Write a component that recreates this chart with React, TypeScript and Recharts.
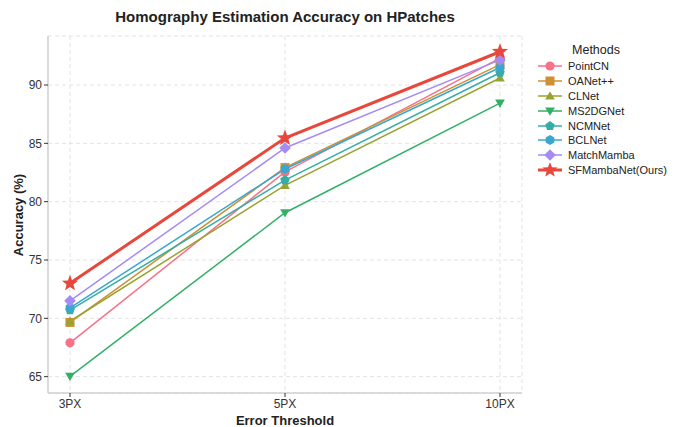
import React from "react";
import { LineChart, Line, XAxis, YAxis, CartesianGrid } from "recharts";

const categories = ["3PX", "5PX", "10PX"];
const pointCN = [67.9, 82.55, 92.3];
const oaNet = [69.65, 82.92, 91.75];
const clNet = [69.75, 81.4, 90.6];
const ms2dgNet = [65.03, 79.05, 88.45];
const ncmNet = [70.7, 81.85, 91.05];
const bclNet = [70.9, 82.8, 91.5];
const matchMamba = [71.5, 84.6, 92.15];
const sfMambaNet = [73.0, 85.45, 92.85];
const yTicks = [65, 70, 75, 80, 85, 90];

const seriesDefs = [
  { key: "PointCN", values: pointCN, color: "#f77189", shape: "circle", width: 1.5 },
  { key: "OANet++", values: oaNet, color: "#ce9032", shape: "square", width: 1.5 },
  { key: "CLNet", values: clNet, color: "#97a431", shape: "triUp", width: 1.5 },
  { key: "MS2DGNet", values: ms2dgNet, color: "#32b166", shape: "triDown", width: 1.5 },
  { key: "NCMNet", values: ncmNet, color: "#36ada4", shape: "pentagon", width: 1.5 },
  { key: "BCLNet", values: bclNet, color: "#39a7d0", shape: "hexagon", width: 1.5 },
  { key: "MatchMamba", values: matchMamba, color: "#a48cf4", shape: "diamond", width: 1.5 },
  { key: "SFMambaNet(Ours)", values: sfMambaNet, color: "#e8483b", shape: "star", width: 3 },
];

const data = categories.map((c, i) => {
  const row: any = { name: c };
  seriesDefs.forEach((s) => (row[s.key] = s.values[i]));
  return row;
});

const FONT = "'Liberation Sans', Arial, Helvetica, sans-serif";

function polygon(cx: number, cy: number, r: number, n: number, rot: number) {
  const pts: string[] = [];
  for (let i = 0; i < n; i++) {
    const a = rot + (i * 2 * Math.PI) / n;
    pts.push(`${cx + r * Math.cos(a)},${cy + r * Math.sin(a)}`);
  }
  return pts.join(" ");
}

function star(cx: number, cy: number, ro: number, ri: number) {
  const pts: string[] = [];
  for (let i = 0; i < 10; i++) {
    const r = i % 2 === 0 ? ro : ri;
    const a = -Math.PI / 2 + (i * Math.PI) / 5;
    pts.push(`${cx + r * Math.cos(a)},${cy + r * Math.sin(a)}`);
  }
  return pts.join(" ");
}

function Marker({ cx, cy, shape, color, scale = 1 }: any) {
  const s = scale;
  switch (shape) {
    case "circle":
      return <circle cx={cx} cy={cy} r={4.6 * s} fill={color} />;
    case "square":
      return <rect x={cx - 4.5 * s} y={cy - 4.5 * s} width={9 * s} height={9 * s} fill={color} />;
    case "triUp":
      return <polygon points={polygon(cx, cy + 0.8 * s, 5.6 * s, 3, -Math.PI / 2)} fill={color} />;
    case "triDown":
      return <polygon points={polygon(cx, cy - 0.8 * s, 5.6 * s, 3, Math.PI / 2)} fill={color} />;
    case "pentagon":
      return <polygon points={polygon(cx, cy, 5 * s, 5, -Math.PI / 2)} fill={color} />;
    case "hexagon":
      return <polygon points={polygon(cx, cy, 5 * s, 6, -Math.PI / 2)} fill={color} />;
    case "diamond":
      return <polygon points={polygon(cx, cy, 5.8 * s, 4, -Math.PI / 2)} fill={color} />;
    case "star":
      return <polygon points={star(cx, cy, 8.5 * s, 3.6 * s)} fill={color} />;
    default:
      return null;
  }
}

function LegendBox() {
  return (
    <div style={{ position: "absolute", left: 520, top: 42, width: 150, fontFamily: FONT, color: "#222" }}>
      <div style={{ fontSize: 12.5, textAlign: "center", width: 120, marginLeft: 16, marginBottom: 1, lineHeight: "16px" }}>
        Methods
      </div>
      {seriesDefs.map((s) => (
        <div key={s.key} style={{ display: "flex", alignItems: "center", height: 14.8 }}>
          <svg width={44} height={14} style={{ display: "block" }}>
            <line x1={18} x2={42} y1={7} y2={7} stroke={s.color} strokeWidth={s.width} />
            <Marker cx={30} cy={7} shape={s.shape} color={s.color} scale={s.shape === "star" ? 0.95 : 1} />
          </svg>
          <span style={{ fontSize: 11, marginLeft: 4, lineHeight: "14px" }}>{s.key}</span>
        </div>
      ))}
    </div>
  );
}

export default function App() {
  return (
    <div style={{ position: "absolute", left: 0, top: 0, width: 675, height: 427, background: "#fff" }}>
      <LineChart
        width={675}
        height={427}
        data={data}
        margin={{ top: 36, right: 153, bottom: 4, left: 0 }}
      >
        <text x={285} y={22} textAnchor="middle" style={{ fontFamily: FONT, fontSize: 15, fontWeight: "bold", fill: "#222" }}>
          Homography Estimation Accuracy on HPatches
        </text>
        <text x={285} y={425} textAnchor="middle" style={{ fontFamily: FONT, fontSize: 13, fontWeight: "bold", fill: "#222" }}>
          Error Threshold
        </text>
        <text x={23} y={215} textAnchor="middle" transform="rotate(-90 23 215)" style={{ fontFamily: FONT, fontSize: 13, fontWeight: "bold", fill: "#222" }}>
          Accuracy (%)
        </text>
        <CartesianGrid stroke="#dcdcdc" strokeDasharray="4 3" strokeWidth={0.8} />
        <XAxis
          dataKey="name"
          height={30}
          padding={{ left: 22, right: 22 }}
          tickLine={{ stroke: "#333" }}
          tickSize={4}
          axisLine={{ stroke: "#d0d0d0", strokeWidth: 1.5 }}
          tick={{ fill: "#333", fontSize: 12, fontFamily: FONT }}
        />
        <XAxis xAxisId="top" dataKey="name" orientation="top" height={0} tick={false} tickLine={false} axisLine={{ stroke: "#d0d0d0", strokeWidth: 1.5 }} padding={{ left: 22, right: 22 }} />
        <YAxis
          width={48}
          domain={[63.6, 94.2]}
          ticks={yTicks}
          allowDataOverflow
          tickLine={{ stroke: "#333" }}
          tickSize={4}
          axisLine={{ stroke: "#d0d0d0", strokeWidth: 1.5 }}
          tick={{ fill: "#333", fontSize: 12, fontFamily: FONT }}
        />
        <YAxis yAxisId="right" orientation="right" width={0} domain={[63.6, 94.2]} tick={false} tickLine={false} axisLine={{ stroke: "#d0d0d0", strokeWidth: 1.5 }} />
        {seriesDefs.map((s) => (
          <Line
            key={s.key}
            dataKey={s.key}
            stroke={s.color}
            strokeWidth={s.width}
            isAnimationActive={false}
            activeDot={false}
            dot={(p: any) => (
              <Marker key={`${s.key}-${p.index}`} cx={p.cx} cy={p.cy} shape={s.shape} color={s.color} />
            )}
          />
        ))}
      </LineChart>
      <LegendBox />
    </div>
  );
}
